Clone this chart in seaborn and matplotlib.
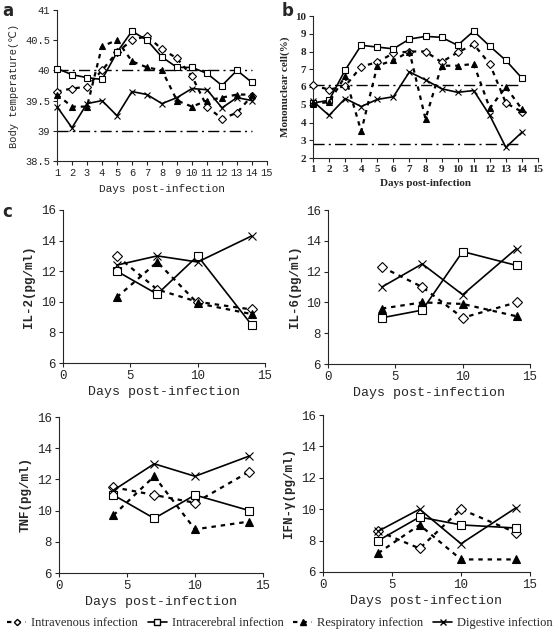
import numpy as np
import pandas as pd
import matplotlib
matplotlib.use("Agg")
import matplotlib.pyplot as plt
from matplotlib.lines import Line2D
import seaborn as sns

sns.set_style("ticks")
plt.rcParams['font.family'] = ['DejaVu Sans']

groups = ['Intravenous infection', 'Intracerebral infection', 'Respiratory infection', 'Digestive infection']

# ---- panel a : body temperature, days 1-14
days_a = list(range(1, 15))
temp_iv = [39.65, 39.7, 39.73, 40.0, 40.3, 40.5, 40.57, 40.35, 40.2, 39.9, 39.4, 39.2, 39.3, 39.58]
temp_ic = [40.03, 39.93, 39.88, 39.85, 40.3, 40.65, 40.5, 40.22, 40.05, 40.05, 39.95, 39.75, 40.0, 39.8]
temp_re = [39.6, 39.4, 39.4, 40.4, 40.5, 40.15, 40.05, 40.0, 39.5, 39.4, 39.5, 39.55, 39.6, 39.6]
temp_di = [39.4, 39.05, 39.45, 39.5, 39.25, 39.65, 39.6, 39.45, 39.55, 39.7, 39.68, 39.38, 39.55, 39.5]
temp_ref = [40.0, 39.0]

# ---- panel b : mononuclear cells
mono_iv = [6.1, 5.85, 6.05, 7.15, 7.4, 7.9, 8.0, 8.0, 7.4, 7.95, 8.4, 7.3, 5.1, 4.6]
mono_ic = [5.1, 5.25, 6.95, 8.35, 8.25, 8.15, 8.7, 8.85, 8.8, 8.35, 9.15, 8.3, 7.5, 6.5]
mono_re = [5.05, 5.15, 6.6, 3.5, 7.2, 7.5, 8.0, 4.2, 7.2, 7.2, 7.3, 4.8, 6.0, 4.75]
mono_di = [5.2, 4.4, 5.35, 4.9, 5.3, 5.45, 6.85, 6.4, 5.9, 5.7, 5.8, 4.4, 2.6, 3.45]
mono_ref = [6.1, 2.8]

# ---- panel c : cytokines, days 4/7/10/14
days_c = [4, 7, 10, 14]
il2 = {'iv': [13.0, 10.8, 10.0, 9.5], 'ic': [12.0, 10.5, 13.0, 8.5],
       're': [10.3, 12.6, 9.9, 9.2], 'di': [12.4, 13.0, 12.6, 14.3]}
il6 = {'iv': [12.3, 11.0, 9.0, 10.0], 'ic': [9.0, 9.5, 13.3, 12.4],
       're': [9.6, 10.0, 9.9, 9.1], 'di': [11.0, 12.5, 10.5, 13.5]}
tnf = {'iv': [11.5, 11.0, 10.5, 12.5], 'ic': [11.0, 9.5, 11.0, 10.0],
       're': [9.7, 12.2, 8.8, 9.3], 'di': [11.3, 13.0, 12.2, 13.5]}
ifn = {'iv': [8.6, 7.5, 10.0, 8.5], 'ic': [8.0, 9.5, 9.0, 8.8],
       're': [7.2, 9.0, 6.8, 6.8], 'di': [8.6, 10.0, 7.8, 10.1]}

# style per group
styles = {
  'iv': dict(marker='D', markersize=4, markerfacecolor='white', ls=(0, (2, 2.2)), lw=1.6),
  'ic': dict(marker='s', markersize=5.5, markerfacecolor='white', ls='-', lw=1.2),
  're': dict(marker='^', markersize=5, markerfacecolor='black', ls=(0, (2, 2.2)), lw=1.6),
  'di': dict(marker='x', markersize=5.5, markerfacecolor='black', ls='-', lw=1.2),
}

mono = ['Liberation Mono', 'DejaVu Sans']
serif = ['Liberation Serif', 'DejaVu Serif']

def draw(ax, x, series, scale=1.0):
  for key, y in series.items():
    st = styles[key]
    sns.lineplot(x=x, y=y, ax=ax, color='black', marker=st['marker'], markersize=st['markersize'] * scale,
                 markerfacecolor=st['markerfacecolor'], markeredgecolor='black', markeredgewidth=0.8,
                 linestyle=st['ls'], linewidth=st['lw'], zorder=3, clip_on=False)

def tidy(ax, font, size=8, bold=False):
  sns.despine(ax=ax)
  ax.tick_params(direction='out', length=3, width=0.8, pad=2)
  for lab in ax.get_xticklabels() + ax.get_yticklabels():
    lab.set_family(font)
    lab.set_fontsize(size)
    if bold:
      lab.set_weight('bold')

fig = plt.figure(figsize=(5.6, 6.35), dpi=100)
W, H = 560, 635

def add_ax(l, t, r, b):
  return fig.add_axes([l / W, 1 - b / H, (r - l) / W, (b - t) / H])

# panel a
ax = add_ax(57, 10, 267, 161)
draw(ax, days_a, {'iv': temp_iv, 'ic': temp_ic, 're': temp_re, 'di': temp_di}, 0.9)
for v in temp_ref:
  ax.plot([1, 14], [v, v], color='black', ls=(0, (8, 3, 1.5, 3)), lw=1.0, zorder=2)
ax.set_xlim(1, 15)
ax.set_ylim(38.5, 41)
ax.set_xticks(range(1, 16))
ax.set_yticks([38.5, 39, 39.5, 40, 40.5, 41])
ax.set_yticklabels(['38.5', '39', '39.5', '40', '40.5', '41'])
tidy(ax, mono, 7.5)
ax.set_xlabel('Days post-infection', family=mono, fontsize=8)
ax.set_ylabel('Body temperature(℃)', family=['Liberation Mono', 'DejaVu Sans'], fontsize=7.5)
fig.text(2 / W, 1 - 2 / H, 'a', fontsize=12, weight='bold', family='DejaVu Sans', va='top')

# panel b
ax = add_ax(313, 16, 538, 158)
draw(ax, days_a, {'iv': mono_iv, 'ic': mono_ic, 're': mono_re, 'di': mono_di}, 0.9)
for v in mono_ref:
  ax.plot([1, 14], [v, v], color='black', ls=(0, (8, 3, 1.5, 3)), lw=1.0, zorder=2)
ax.set_xlim(1, 15)
ax.set_ylim(2, 10)
ax.set_xticks(range(1, 16))
ax.set_yticks(range(2, 11))
tidy(ax, serif, 8, bold=True)
ax.set_xlabel('Days post-infection', family=serif, fontsize=8, weight='bold')
ax.set_ylabel('Mononuclear cell(%)', family=serif, fontsize=8, weight='bold')
fig.text(282 / W, 1 - 2 / H, 'b', fontsize=12, weight='bold', family='DejaVu Sans', va='top')

# panel c
cyto = [(il2, 'IL-2(pg/ml)', (63, 210, 265, 363)),
        (il6, 'IL-6(pg/ml)', (328, 210, 530, 364)),
        (tnf, 'TNF(pg/ml)', (59, 417, 263, 573)),
        (ifn, 'IFN-γ(pg/ml)', (323, 415, 530, 572))]
for data, lab, box in cyto:
  ax = add_ax(*box)
  draw(ax, days_c, data, 1.15)
  ax.set_xlim(0, 15)
  ax.set_ylim(6, 16)
  ax.set_xticks([0, 5, 10, 15])
  ax.set_yticks(range(6, 17, 2))
  tidy(ax, mono, 9)
  ax.set_xlabel('Days post-infection', family=mono, fontsize=9.5, labelpad=3)
  ax.set_ylabel(lab, family=['Liberation Mono', 'DejaVu Sans Mono'], fontsize=9, weight='bold')
fig.text(2 / W, 1 - 203 / H, 'c', fontsize=12, weight='bold', family='DejaVu Sans', va='top')

# legend
handles = []
for key in ['iv', 'ic', 're', 'di']:
  st = styles[key]
  handles.append(Line2D([], [], color='black', marker=st['marker'], markersize=st['markersize'] * 0.8,
                        markerfacecolor=st['markerfacecolor'], markeredgecolor='black',
                        ls=st['ls'], lw=st['lw']))
fig.legend(handles, groups, loc='center', bbox_to_anchor=(0.5, 1 - 623 / H), ncol=4, frameon=False,
           prop={'family': serif, 'size': 9.0}, handlelength=1.5, handletextpad=0.4, columnspacing=0.8,
           borderaxespad=0)

fig.savefig('out.png', dpi=100)
